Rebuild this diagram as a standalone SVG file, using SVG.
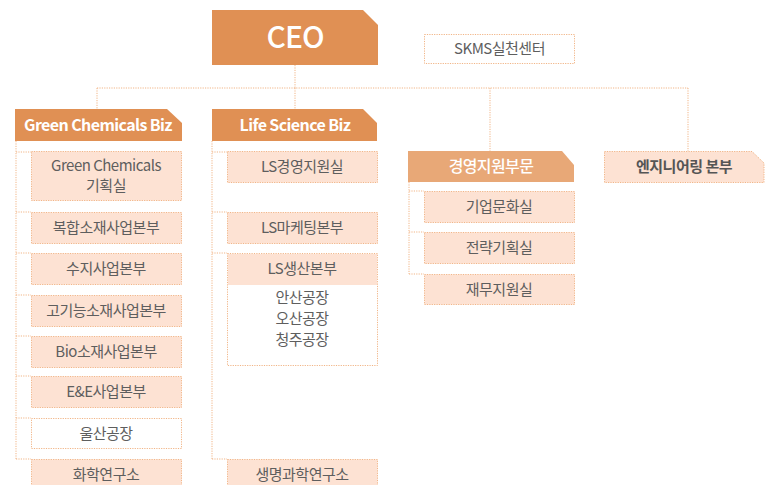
<svg xmlns="http://www.w3.org/2000/svg" width="765" height="485" viewBox="0 0 765 485">
<style>
.ln{fill:none;stroke:#F1B587;stroke-width:1;stroke-dasharray:1.2 1.2}
.hd{fill:#E09054}
.hd2{fill:#E8A877}
.bx{fill:#FDE2D3;stroke:#F1B587;stroke-width:1;stroke-dasharray:1.2 1.2}
.wb{fill:#FFFFFF;stroke:#F1B587;stroke-width:1;stroke-dasharray:1.2 1.2}
.t{font-family:"Noto Sans CJK KR","Noto Sans",sans-serif;font-size:15px;fill:#5E5E5E;text-anchor:middle;letter-spacing:-0.5px}
.th{font-family:"Noto Sans CJK KR","Noto Sans",sans-serif;font-size:16px;font-weight:700;fill:#FFFFFF;text-anchor:middle;letter-spacing:-0.6px}
</style>
<g id="connectors">
<path class="ln" d="M295,65 V88 M97,88 H688 M97,88 V109 M295,88 V109 M490,88 V151 M688,88 V151"/>
<path class="ln" d="M16,141 V459 M16,152 H31 M16,212 H31 M16,253 H31 M16,295 H31 M16,336 H31 M16,376 H31 M16,418 H31 M16,459 H31"/>
<path class="ln" d="M212,141 V459 M212,152 H227 M212,212 H227 M212,253 H227 M212,459 H227"/>
<path class="ln" d="M409,182 V274 M409,191 H424 M409,232 H424 M409,274 H424"/>
</g>
<g id="ceo">
<path class="hd" d="M212,10 H363 L378,25 V65 H212 Z"/>
<text x="295" y="48" style="font-family:'Noto Sans CJK KR','Noto Sans',sans-serif;font-size:30px;font-weight:500;fill:#FFFFFF;text-anchor:middle;letter-spacing:-1px">CEO</text>
</g>
<g id="skms">
<rect class="wb" x="424.5" y="34.5" width="150" height="29"/>
<text class="t" x="499.5" y="54">SKMS실천센터</text>
</g>
<g id="green-biz">
<path class="hd" d="M15,109 H167 L182,123 V141 H15 Z"/>
<text class="th" x="98" y="131">Green Chemicals Biz</text>
</g>
<g id="gc-plan"><rect class="bx" x="31.5" y="151.5" width="150" height="49"/><text class="t" x="106" y="171">Green Chemicals</text><text class="t" x="106" y="191">기획실</text></g>
<g id="gc-composite"><rect class="bx" x="31.5" y="212.5" width="150" height="31"/><text class="t" x="106" y="233">복합소재사업본부</text></g>
<g id="gc-resin"><rect class="bx" x="31.5" y="253.5" width="150" height="31"/><text class="t" x="106" y="274">수지사업본부</text></g>
<g id="gc-highperf"><rect class="bx" x="31.5" y="295.5" width="150" height="31"/><text class="t" x="106" y="316">고기능소재사업본부</text></g>
<g id="gc-bio"><rect class="bx" x="31.5" y="336.5" width="150" height="31"/><text class="t" x="106" y="357">Bio소재사업본부</text></g>
<g id="gc-ee"><rect class="bx" x="31.5" y="376.5" width="150" height="31"/><text class="t" x="106" y="397">E&amp;E사업본부</text></g>
<g id="gc-ulsan"><rect class="wb" x="31.5" y="418.5" width="150" height="30"/><text class="t" x="106" y="439">울산공장</text></g>
<g id="gc-lab"><rect class="bx" x="31.5" y="459.5" width="150" height="40"/><text class="t" x="106" y="480">화학연구소</text></g>
<g id="life-biz">
<path class="hd" d="M212,109 H363 L377,123 V141 H212 Z"/>
<text class="th" x="295" y="131">Life Science Biz</text>
</g>
<g id="ls-mgmt"><rect class="bx" x="227.5" y="151.5" width="150" height="31"/><text class="t" x="302" y="172">LS경영지원실</text></g>
<g id="ls-mkt"><rect class="bx" x="227.5" y="212.5" width="150" height="31"/><text class="t" x="302" y="233">LS마케팅본부</text></g>
<g id="ls-prod">
<rect class="wb" x="227.5" y="253.5" width="150" height="112"/>
<rect x="228" y="254" width="149" height="31" fill="#FDE2D3"/>
<text class="t" x="302" y="274">LS생산본부</text>
<text class="t" x="302" y="303">안산공장</text>
<text class="t" x="302" y="324">오산공장</text>
<text class="t" x="302" y="345">청주공장</text>
</g>
<g id="ls-lab"><rect class="bx" x="227.5" y="459.5" width="150" height="40"/><text class="t" x="302" y="480">생명과학연구소</text></g>
<g id="mgmt-div">
<path class="hd2" d="M408,151 H562 L574,165 V182 H408 Z"/>
<text class="th" x="491" y="172" style="font-weight:500">경영지원부문</text>
</g>
<g id="culture"><rect class="bx" x="424.5" y="191.5" width="150" height="31"/><text class="t" x="499" y="212">기업문화실</text></g>
<g id="strategy"><rect class="bx" x="424.5" y="232.5" width="150" height="31"/><text class="t" x="499" y="253">전략기획실</text></g>
<g id="finance"><rect class="bx" x="424.5" y="274.5" width="150" height="30"/><text class="t" x="499" y="295">재무지원실</text></g>
<g id="engineering">
<path class="bx" d="M604.5,151.5 H752 L764,163 V182.5 H604.5 Z"/>
<text class="t" x="684" y="172" style="font-size:15px;font-weight:700;fill:#555">엔지니어링 본부</text>
</g>
</svg>
